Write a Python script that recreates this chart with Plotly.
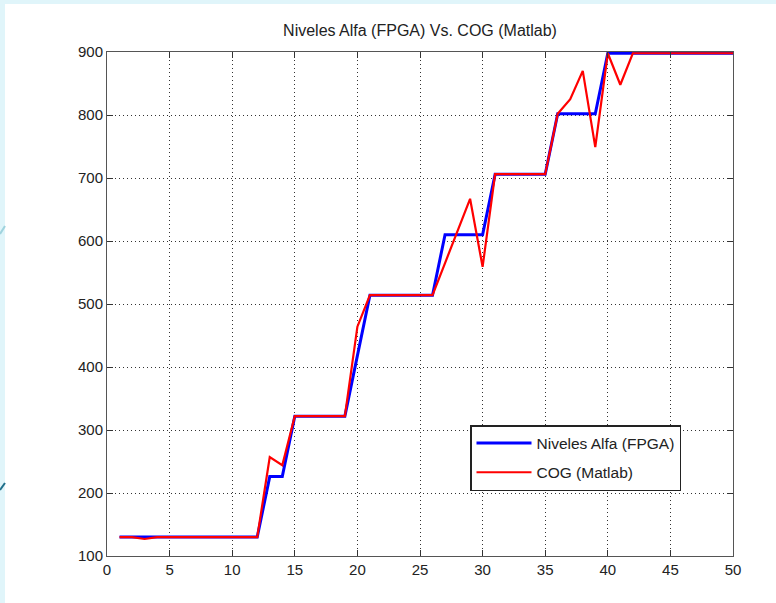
import plotly.graph_objects as go

x = list(range(1, 51))
fpga = [130]*12 + [226, 226] + [322]*5 + [418] + [514]*6 + [610]*4 + [706]*5 + [802]*4 + [898]*11
cog = ([130, 130, 127] + [130]*9 + [257, 244] + [322]*5 + [464] + [514]*6
       + [565, 616, 667, 559] + [706]*5 + [802, 825, 870, 749, 898, 848] + [898]*9)

x_ticks = list(range(0, 51, 5))
y_ticks = list(range(100, 901, 100))

L, R, T, B = 107, 733, 52, 556
W, H = 776, 603

def px(p):
    return (p - L) / (R - L)

def py(p):
    return (B - p) / (B - T)

fig = go.Figure()
fig.add_trace(go.Scatter(x=x, y=fpga, mode="lines", name="Niveles Alfa (FPGA)",
                         line=dict(color="#0000ff", width=3), legendgroup="a"))
fig.add_trace(go.Scatter(x=x, y=cog, mode="lines", name="COG (Matlab)",
                         line=dict(color="#ff0000", width=2.2), legendgroup="b"))

axis_common = dict(
    showline=True, linecolor="#555", linewidth=1, mirror="ticks",
    ticks="inside", ticklen=6, tickcolor="#333", tickwidth=1,
    showgrid=True, gridcolor="#333", griddash="1px,3px", gridwidth=1,
    zeroline=False, tickfont=dict(size=15, color="#222"),
)

fig.update_xaxes(range=[0, 50], tickvals=x_ticks, ticktext=[str(v) for v in x_ticks], **axis_common)
fig.update_yaxes(range=[100, 900], tickvals=y_ticks, ticktext=[str(v) for v in y_ticks], **axis_common)

shapes = [
    dict(type="rect", xref="paper", yref="paper", x0=px(0), x1=px(5), y0=py(H), y1=py(0),
         fillcolor="#e0f5fa", line=dict(width=0), layer="below"),
    dict(type="rect", xref="paper", yref="paper", x0=px(0), x1=px(W), y0=py(4), y1=py(0),
         fillcolor="#e0f5fa", line=dict(width=0), layer="below"),
    dict(type="line", xref="paper", yref="paper", x0=px(0), x1=px(5), y0=py(234), y1=py(226),
         line=dict(color="#9fd3de", width=2)),
    dict(type="line", xref="paper", yref="paper", x0=px(0), x1=px(5), y0=py(490), y1=py(483),
         line=dict(color="#1f6f8a", width=2)),
]

fig.update_layout(
    width=W, height=H,
    margin=dict(l=L, r=W - R, t=T, b=H - B, pad=0),
    paper_bgcolor="white", plot_bgcolor="white",
    font=dict(family="Liberation Sans, Arial, sans-serif", color="#222", size=14),
    title=dict(text="Niveles Alfa (FPGA) Vs. COG (Matlab)", x=0.5, xref="paper",
               y=1 - 30 / H, yref="container", xanchor="center", yanchor="middle",
               font=dict(size=16, color="#222")),
    legend=dict(x=px(470), y=py(425), xanchor="left", yanchor="top",
                bgcolor="white", bordercolor="#222", borderwidth=1.5,
                font=dict(size=15.5, color="#222"), itemwidth=55, tracegroupgap=6,
                entrywidth=180),
    shapes=shapes,
)

fig.write_html("out.html", config={"displayModeBar": False},
               post_script="document.body.style.margin='0';document.body.style.overflow='hidden';")
